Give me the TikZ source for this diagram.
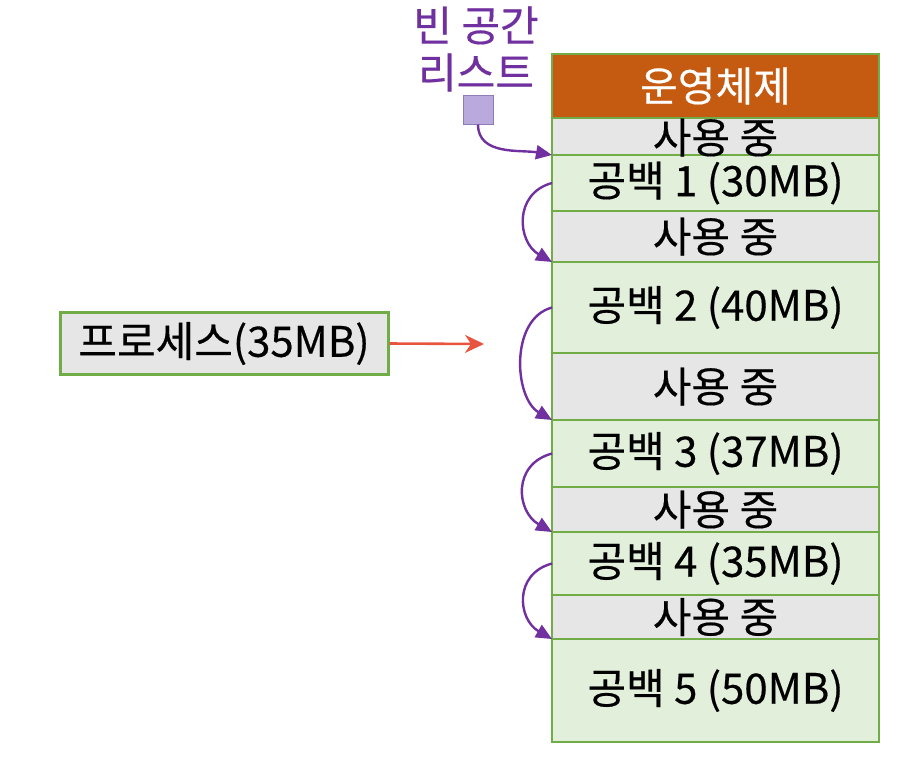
\documentclass[tikz,border=0pt]{standalone}
\usepackage{fontspec}
\setmainfont{Noto Sans CJK KR}[FakeBold=0.4]
\usetikzlibrary{arrows.meta}
\definecolor{gborder}{HTML}{70AD47}
\definecolor{freefill}{HTML}{E2EFDA}
\definecolor{usedfill}{HTML}{E7E6E6}
\definecolor{osfill}{HTML}{C55A11}
\definecolor{purp}{HTML}{7030A0}
\definecolor{sqfill}{HTML}{B9A9DC}
\definecolor{sqborder}{HTML}{8E7CB8}
\definecolor{redarr}{HTML}{E8553F}
\tikzset{
  memtext/.style={font=\fontsize{42}{46}\selectfont, inner sep=0pt},
  mem/.style={draw=gborder, line width=2.2pt, minimum width=327pt, inner sep=0pt, outer sep=0pt, anchor=north west},
  osbox/.style={mem, fill=osfill},
  usedbox/.style={mem, fill=usedfill},
  freebox/.style={mem, fill=freefill},
  link/.style={draw=purp, line width=2.4pt, -{Triangle[length=16pt,width=14pt]}},
}
\begin{document}
\begin{tikzpicture}[x=1pt,y=1pt]
\useasboundingbox (0,0) rectangle (912,-772);
\node[osbox, minimum height=64pt] (os) at (552,-54) {};
\node[usedbox, minimum height=37pt] (u1) at (552,-118) {};
\node[freebox, minimum height=56pt] (f1) at (552,-155) {};
\node[usedbox, minimum height=51pt] (u2) at (552,-211) {};
\node[freebox, minimum height=91pt] (f2) at (552,-262) {};
\node[usedbox, minimum height=67pt] (u3) at (552,-353) {};
\node[freebox, minimum height=67pt] (f3) at (552,-420) {};
\node[usedbox, minimum height=45pt] (u4) at (552,-487) {};
\node[freebox, minimum height=63pt] (f4) at (552,-532) {};
\node[usedbox, minimum height=44pt] (u5) at (552,-595) {};
\node[freebox, minimum height=103pt] (f5) at (552,-639) {};

\node[memtext, text=white, font=\fontsize{41}{46}\selectfont] (tos) at (os.center) {운영체제};
\node[memtext] (tu1) at ([yshift=-1pt]u1.center) {사용 중};
\node[memtext] (tf1) at (f1.center) {공백 1 (30MB)};
\node[memtext] (tu2) at (u2.center) {사용 중};
\node[memtext] (tf2) at (f2.center) {공백 2 (40MB)};
\node[memtext] (tu3) at (u3.center) {사용 중};
\node[memtext] (tf3) at (f3.center) {공백 3 (37MB)};
\node[memtext] (tu4) at (u4.center) {사용 중};
\node[memtext] (tf4) at (f4.center) {공백 4 (35MB)};
\node[memtext] (tu5) at (u5.center) {사용 중};
\node[memtext] (tf5) at (f5.center) {공백 5 (50MB)};

\node[text=purp, align=center, font=\fontsize{42}{47}\selectfont, inner sep=0pt] (lbl) at (476,-49) {빈 공간\\리스트};
\node[draw=sqborder, line width=1pt, fill=sqfill, minimum width=30pt, minimum height=29pt, inner sep=0pt] (sq) at (478,-109.5) {};

\node[draw=gborder, line width=3pt, fill=usedfill, minimum width=328pt, minimum height=62pt, inner sep=0pt, font=\fontsize{42}{46}\selectfont] (proc) at (224,-343.5) {프로세스(35MB)};
\coordinate (ptgt) at (484,-344);
\draw[draw=redarr, line width=2.6pt, -{Stealth[length=19pt,width=18pt,inset=6pt]}] (proc.east) -- (ptgt);

\draw[link] (sq.south) to[out=-90, in=170] (f1.north west);
\draw[link] (f1.west) to[out=195, in=150, looseness=1.3] (f2.north west);
\draw[link] (f2.west) to[out=195, in=150, looseness=1.0] (f3.north west);
\draw[link] (f3.west) to[out=195, in=150, looseness=1.35] (f4.north west);
\draw[link] (f4.west) to[out=195, in=150, looseness=1.35] (f5.north west);
\end{tikzpicture}
\end{document}
